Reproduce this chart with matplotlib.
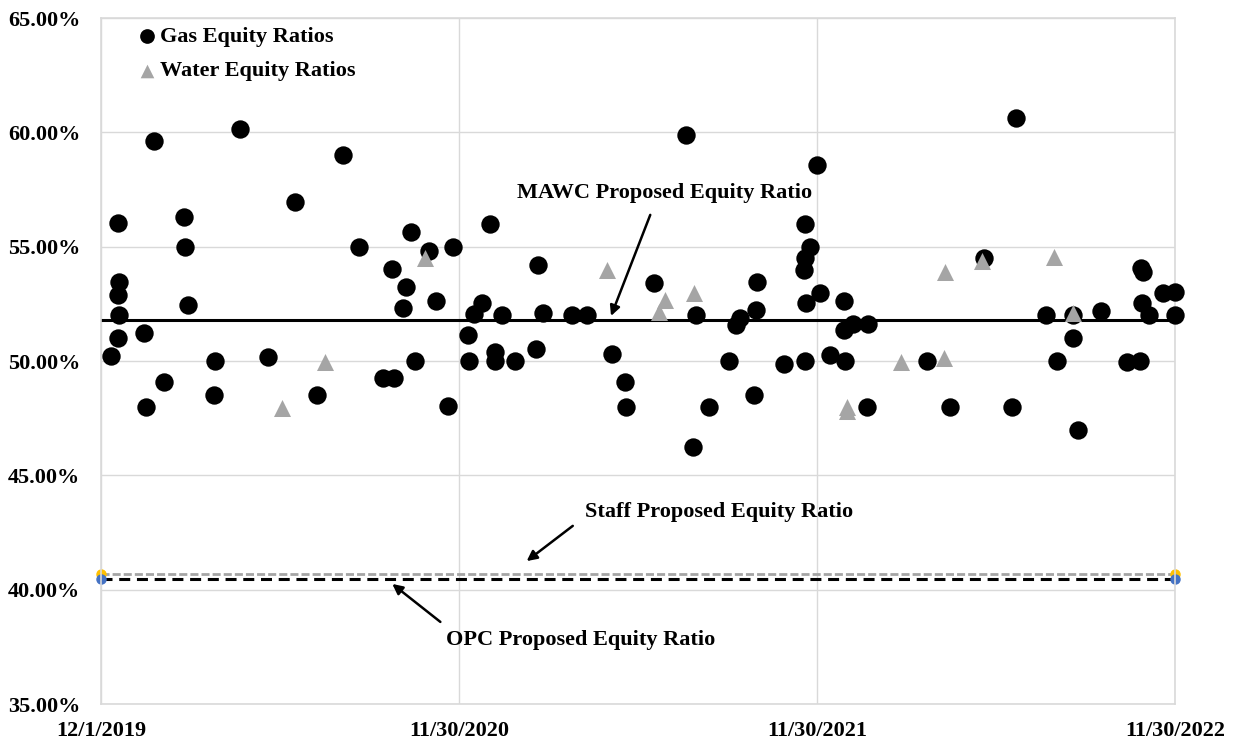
import numpy as np
import pandas as pd
import matplotlib
matplotlib.use("Agg")
import matplotlib.pyplot as plt

plt.rcParams['font.family'] = ['Liberation Serif', 'DejaVu Serif']
plt.rcParams['font.weight'] = 'bold'

# days after 12/1/2019, equity ratio in %
gas_day = [10, 17, 18, 17, 18, 17, 44, 46, 54, 64,
           85, 86, 89, 116, 115, 142, 170, 198, 220, 247,
           263, 288, 299, 297, 311, 308, 316, 320, 334, 342,
           354, 359, 374, 375, 380, 388, 397, 402, 402, 409,
           422, 443, 446, 451, 480, 495, 521, 534, 535, 564,
           596, 604, 607, 620, 640, 647, 652, 666, 668, 669,
           696, 718, 719, 717, 718, 718, 723, 730, 733, 743,
           758, 758, 759, 767, 781, 782, 842, 866, 900, 929,
           933, 963, 975, 991, 991, 996, 1020, 1046, 1059, 1060,
           1062, 1061, 1069, 1083, 1095, 1095]
gas_val = [50.23, 51.0, 52.0, 52.9, 53.47, 56.02, 51.24, 48.0, 59.64, 49.1,
           56.31, 55.0, 52.46, 50.0, 48.51, 60.13, 50.16, 56.95, 48.51, 59.0,
           55.0, 49.24, 49.24, 54.01, 53.25, 52.3, 55.63, 50.0, 54.8, 52.64,
           48.03, 55.0, 51.13, 50.0, 52.04, 52.55, 56.0, 50.41, 50.0, 52.0,
           50.0, 50.51, 54.2, 52.1, 52.03, 52.03, 50.32, 49.1, 48.0, 53.4,
           59.88, 46.26, 52.0, 48.0, 50.0, 51.58, 51.87, 48.51, 52.23, 53.44,
           49.87, 50.0, 52.52, 54.0, 54.49, 56.0, 55.0, 58.57, 52.96, 50.26,
           52.64, 51.36, 50.0, 51.62, 48.0, 51.62, 50.0, 48.0, 54.52, 48.0,
           60.61, 52.0, 50.0, 52.0, 51.0, 47.0, 52.2, 49.97, 50.0, 54.05,
           53.9, 52.55, 52.0, 52.99, 53.0, 52.0]

water_day = [185, 228, 330, 516, 569, 575, 605, 761, 761, 816, 859, 860, 898, 972, 991]
water_val = [47.96, 49.96, 54.5, 53.98, 52.16, 52.67, 52.96, 47.8, 48.0, 49.96,
             50.14, 53.91, 54.37, 54.53, 52.1]

mawc = 51.8
staff = 40.70
opc = 40.45

start = pd.Timestamp('2019-12-01')
end = pd.Timestamp('2022-11-30')
tick_dates = ['2019-12-01', '2020-11-30', '2021-11-30', '2022-11-30']
tick_labels = ['12/1/2019', '11/30/2020', '11/30/2021', '11/30/2022']
y_ticks = [35, 40, 45, 50, 55, 60, 65]

def to_date(d):
    return start + pd.to_timedelta(np.array(d), unit='D')

fig = plt.figure(figsize=(12.35, 7.43), dpi=100)
ax = fig.add_axes([101/1235, 1 - 704/743, (1175 - 101)/1235, (704 - 18)/743])

ax.grid(True, color='#D9D9D9', lw=1.0, zorder=0)
ax.set_axisbelow(True)
for s in ax.spines.values():
    s.set_color('#D9D9D9')
    s.set_linewidth(1.2)

# proposed ratio lines
ax.plot([start, end], [staff, staff], color='#A5A5A5', lw=2.0,
        linestyle=(0, (2.9, 1.1)), marker='o', ms=6.5, mfc='#FFC000',
        mec='#FFC000', zorder=2, clip_on=False)
ax.plot([start, end], [opc, opc], color='black', lw=2.2,
        linestyle=(0, (3.6, 2.2)), marker='o', ms=6.5, mfc='#4472C4',
        mec='#4472C4', zorder=2, clip_on=False)
ax.plot([start, end], [mawc, mawc], color='black', lw=2.2, zorder=2)

ax.scatter(to_date(gas_day), gas_val, s=175, c='black', marker='o',
           zorder=3, clip_on=False, label='Gas Equity Ratios', linewidths=0)
ax.scatter(to_date(water_day), water_val, s=150, c='#A5A5A5', marker='^',
           zorder=4, clip_on=False, label='Water Equity Ratios', linewidths=0)

ax.set_xlim(start, end)
ax.set_ylim(35, 65)
ax.set_xticks(pd.to_datetime(tick_dates))
ax.set_xticklabels(tick_labels)
ax.set_yticks(y_ticks)
ax.set_yticklabels([f'{v:.2f}%' for v in y_ticks])
ax.tick_params(axis='both', length=0, labelsize=16)
ax.tick_params(axis='x', pad=12)
ax.tick_params(axis='y', pad=15)

arrow = dict(arrowstyle='-|>', color='black', lw=1.8, mutation_scale=15,
             shrinkA=0, shrinkB=0)

ax.text(to_date(575), 57.35, 'MAWC Proposed Equity Ratio', ha='center',
        va='center', fontsize=16, fontweight='bold')
ax.annotate('', xy=(to_date(520), mawc + 0.17), xytext=(to_date(560), 56.39),
            arrowprops=arrow)

ax.text(to_date(630), 43.4, 'Staff Proposed Equity Ratio', ha='center',
        va='center', fontsize=16, fontweight='bold')
ax.annotate('', xy=(to_date(434), 41.25), xytext=(to_date(481), 42.79),
            arrowprops=arrow)

ax.text(to_date(489), 37.8, 'OPC Proposed Equity Ratio', ha='center',
        va='center', fontsize=16, fontweight='bold')
ax.annotate('', xy=(to_date(297), 40.25), xytext=(to_date(346), 38.59),
            arrowprops=arrow)

ax.legend(loc='upper left', bbox_to_anchor=(0.0345, 0.988), frameon=False,
          fontsize=16, markerscale=0.8, handlelength=0.8, handletextpad=0.2,
          labelspacing=0.63, borderpad=0, borderaxespad=0)

fig.savefig('out.png', dpi=100)
